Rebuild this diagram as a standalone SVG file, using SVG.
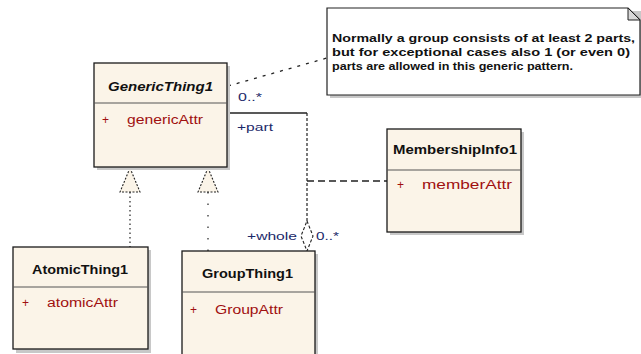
<svg xmlns="http://www.w3.org/2000/svg" width="641" height="354" viewBox="0 0 641 354">
  <defs>
    <style>
      .box { fill: #fbf4e8; stroke: #1a1a1a; stroke-width: 1.3; }
      .shadow { fill: #c8c8c8; }
      .div { stroke: #555; stroke-width: 1; }
      .title { font-family: "Liberation Sans", Arial, sans-serif; font-size: 12px; font-weight: bold; fill: #111; }
      .attr { font-family: "Liberation Sans", Arial, sans-serif; font-size: 12px; fill: #a01010; }
      .role { font-family: "Liberation Sans", Arial, sans-serif; font-size: 11px; fill: #1c2a6a; }
      .note { font-family: "Liberation Sans", Arial, sans-serif; font-size: 10.5px; font-weight: bold; fill: #111; }
      .gen { fill: #fbf4e8; stroke: #222; stroke-width: 1.1; stroke-dasharray: 2 1.5; }
      .dot { fill: none; stroke: #222; stroke-width: 1.2; }
    </style>
  </defs>

  <!-- note -->
  <g id="note">
    <polygon class="shadow" points="330,11 643,11 643,98 330,98"/>
    <polygon points="327,8 628,8 640,20 640,95 327,95" fill="#ffffff" stroke="#222" stroke-width="1.2"/>
    <polygon points="628,8 628,20 640,20" fill="#d8d8d8" stroke="#222" stroke-width="1"/>
    <text class="note" x="332" y="42" textLength="303" lengthAdjust="spacingAndGlyphs">Normally a group consists of at least 2 parts,</text>
    <text class="note" x="332" y="56" textLength="298" lengthAdjust="spacingAndGlyphs">but for exceptional cases also 1 (or even 0)</text>
    <text class="note" x="332" y="70" textLength="241" lengthAdjust="spacingAndGlyphs">parts are allowed in this generic pattern.</text>
  </g>

  <!-- connectors -->
  <g id="connectors" fill="none">
    <!-- note link -->
    <path d="M228,86 L327,58" stroke="#222" stroke-width="1.3" stroke-dasharray="3 6"/>
    <!-- generalizations -->
    <path d="M130,192 L130,247" class="dot" stroke-dasharray="1.5 3"/>
    <path d="M208,192 L208,251" class="dot" stroke-dasharray="1.5 10"/>
    <polygon class="gen" points="130,168 120,192 140,192"/>
    <polygon class="gen" points="208,168 198,192 218,192"/>
    <!-- aggregation part/whole -->
    <path d="M227,113 L307,113" stroke="#222" stroke-width="1.3"/>
    <path d="M307,113 L307,221" stroke="#222" stroke-width="1.2" stroke-dasharray="3 2"/>
    <polygon points="307,221 313,236 307,251 301,236" fill="#ffffff" stroke="#222" stroke-width="1.1" stroke-dasharray="3 2"/>
    <!-- association class link -->
    <path d="M307,181 L387,181" stroke="#222" stroke-width="1.3" stroke-dasharray="7 4"/>
    <text class="role" x="238" y="101" textLength="24" lengthAdjust="spacingAndGlyphs">0..*</text>
    <text class="role" x="237" y="131" textLength="36" lengthAdjust="spacingAndGlyphs">+part</text>
    <text class="role" x="247" y="240" textLength="50" lengthAdjust="spacingAndGlyphs">+whole</text>
    <text class="role" x="316" y="240" textLength="23" lengthAdjust="spacingAndGlyphs">0..*</text>
  </g>

  <!-- GenericThing1 -->
  <g id="GenericThing1">
    <rect class="shadow" x="97" y="66" width="133" height="104"/>
    <rect class="box" x="94" y="63" width="133" height="104"/>
    <line class="div" x1="94" y1="103" x2="227" y2="103"/>
    <text class="title" x="108" y="91" font-style="italic" textLength="105" lengthAdjust="spacingAndGlyphs">GenericThing1</text>
    <text class="attr" x="102" y="124">+</text>
    <text class="attr" x="127" y="124" textLength="76" lengthAdjust="spacingAndGlyphs">genericAttr</text>
  </g>

  <!-- AtomicThing1 -->
  <g id="AtomicThing1">
    <rect class="shadow" x="16" y="250" width="135" height="103"/>
    <rect class="box" x="13" y="247" width="135" height="102"/>
    <line class="div" x1="13" y1="287" x2="148" y2="287"/>
    <text class="title" x="32" y="274" textLength="96" lengthAdjust="spacingAndGlyphs">AtomicThing1</text>
    <text class="attr" x="22" y="307">+</text>
    <text class="attr" x="47" y="307" textLength="71" lengthAdjust="spacingAndGlyphs">atomicAttr</text>
  </g>

  <!-- GroupThing1 -->
  <g id="GroupThing1">
    <rect class="shadow" x="185" y="254" width="133" height="104"/>
    <rect class="box" x="182" y="251" width="133" height="106"/>
    <line class="div" x1="182" y1="292" x2="315" y2="292"/>
    <text class="title" x="202" y="278" textLength="91" lengthAdjust="spacingAndGlyphs">GroupThing1</text>
    <text class="attr" x="190" y="314">+</text>
    <text class="attr" x="215" y="314" textLength="68" lengthAdjust="spacingAndGlyphs">GroupAttr</text>
  </g>

  <!-- MembershipInfo1 -->
  <g id="MembershipInfo1">
    <rect class="shadow" x="390" y="132" width="134" height="103"/>
    <rect class="box" x="387" y="129" width="134" height="103"/>
    <line class="div" x1="387" y1="170" x2="521" y2="170"/>
    <text class="title" x="393" y="154" textLength="124" lengthAdjust="spacingAndGlyphs">MembershipInfo1</text>
    <text class="attr" x="397" y="189">+</text>
    <text class="attr" x="422" y="189" textLength="90" lengthAdjust="spacingAndGlyphs">memberAttr</text>
  </g>
</svg>
